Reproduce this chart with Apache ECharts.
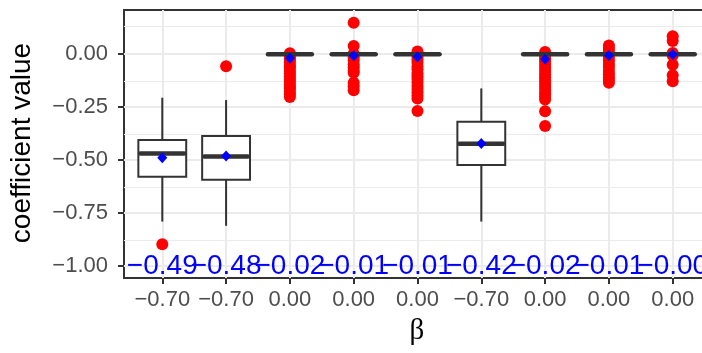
<!DOCTYPE html>
<html><head><meta charset="utf-8">
<script src="https://cdn.jsdelivr.net/npm/echarts@6/dist/echarts.min.js"></script>
<style>html,body{margin:0;padding:0;background:#fff}#c{width:702px;height:353px}</style>
</head><body><div id="c"></div>
<script>
// ---- data ----
const tickLabels = ['\u22120.70','\u22120.70','0.00','0.00','0.00','\u22120.70','0.00','0.00','0.00'];
const meanLabels = ['\u22120.49','\u22120.48','\u22120.02','\u22120.01','\u22120.01','\u22120.42','\u22120.02','\u22120.01','\u22120.00'];
const whiskerLow  = [-0.791, -0.811, 0, 0, 0, -0.791, 0, 0, 0];
const q1          = [-0.579, -0.593, 0, 0, 0, -0.524, 0, 0, 0];
const medians     = [-0.470, -0.484, 0, 0, 0, -0.423, 0, 0, 0];
const q3          = [-0.406, -0.387, 0, 0, 0, -0.319, 0, 0, 0];
const whiskerHigh = [-0.206, -0.217, 0, 0, 0, -0.162, 0, 0, 0];
const means       = [-0.489, -0.481, -0.020, -0.008, -0.014, -0.422, -0.024, -0.006, -0.002];
const outliers1 = [-0.898];
const outliers2 = [-0.057];
const outliers3 = [0.004, -0.006, -0.018, -0.027, -0.041, -0.055, -0.063, -0.078, -0.090, -0.104, -0.117, -0.128, -0.142, -0.155, -0.163, -0.178, -0.190, -0.203];
const outliers4 = [0.148, 0.038, 0.002, -0.015, -0.030, -0.048, -0.062, -0.078, -0.088, -0.135, -0.152, -0.171];
const outliers5 = [0.012, 0.000, -0.012, -0.025, -0.040, -0.058, -0.072, -0.090, -0.104, -0.118, -0.133, -0.150, -0.165, -0.180, -0.196, -0.210, -0.269];
const outliers6 = [];
const outliers7 = [0.010, -0.005, -0.020, -0.035, -0.050, -0.065, -0.080, -0.095, -0.110, -0.125, -0.140, -0.155, -0.170, -0.185, -0.200, -0.214, -0.270, -0.340];
const outliers8 = [0.041, 0.025, 0.010, 0.000, -0.012, -0.030, -0.047, -0.060, -0.078, -0.095, -0.110, -0.122, -0.135];
const outliers9 = [0.085, 0.062, 0.005, -0.005, -0.050, -0.100, -0.128];
const yTicks = [-1.00, -0.75, -0.50, -0.25, 0.00];
const yMinor = [-0.875, -0.625, -0.375, -0.125, 0.125];
const labelY = -1.0;

// ---- build ----
const outliers = [outliers1, outliers2, outliers3, outliers4, outliers5, outliers6, outliers7, outliers8, outliers9];
const xs = tickLabels.map((_, i) => i + 1);
const boxData = xs.map((x, i) => [x, whiskerLow[i], q1[i], medians[i], q3[i], whiskerHigh[i]]);
const outData = [];
outliers.forEach((arr, i) => arr.forEach(v => outData.push([i + 1, v])));
const meanData = xs.map((x, i) => [x, means[i]]);
const textData = xs.map((x, i) => [x, labelY, meanLabels[i]]);

const FONT = 'Liberation Sans';
const fmtY = v => (v < 0 ? '\u2212' : '') + Math.abs(v).toFixed(2);

const chart = echarts.init(document.getElementById('c'), null, {renderer: 'canvas'});
chart.setOption({
  animation: false,
  backgroundColor: '#ffffff',
  grid: {left: 124, top: 10, width: 587, height: 268, show: true, borderColor: '#333333', borderWidth: 2,
         backgroundColor: '#ffffff', containLabel: false, outerBoundsMode: 'none'},
  xAxis: {
    type: 'value', min: 0.4, max: 9.6,
    axisLine: {show: false, onZero: false},
    axisTick: {show: true, customValues: xs, length: 6, lineStyle: {color: '#333333', width: 2}},
    axisLabel: {customValues: xs, formatter: v => tickLabels[Math.round(v) - 1], margin: 11,
                fontSize: 22, color: '#4D4D4D', fontFamily: FONT},
    splitLine: {show: true, lineStyle: {color: '#EBEBEB', width: 2}}
  },
  yAxis: {
    type: 'value', min: -1.0576, max: 0.2085,
    axisLine: {show: false, onZero: false},
    axisTick: {show: true, customValues: yTicks, length: 6, lineStyle: {color: '#333333', width: 2}},
    axisLabel: {customValues: yTicks, formatter: fmtY, margin: 16,
                fontSize: 22, color: '#4D4D4D', fontFamily: FONT},
    splitLine: {show: true, lineStyle: {color: '#EBEBEB', width: 2}}
  },
  graphic: [
    {type: 'text', x: 22, y: 143, rotation: Math.PI / 2,
     style: {text: 'coefficient value', fontSize: 28, fontFamily: FONT, fill: '#000000', align: 'center', verticalAlign: 'middle'}},
    {type: 'text', x: 417, y: 331,
     style: {text: '\u03B2', fontSize: 29, fontFamily: 'Liberation Serif', fill: '#000000', align: 'center', verticalAlign: 'middle'}}
  ],
  series: [
    {type: 'line', data: [], silent: true, z: 1,
     markLine: {silent: true, z: 1, symbol: 'none', label: {show: false},
                lineStyle: {color: '#EBEBEB', width: 1, type: 'solid'},
                data: yMinor.map(v => ({yAxis: v}))}},
    {type: 'scatter', data: outData, symbol: 'circle', symbolSize: 12, z: 3,
     itemStyle: {color: '#FF0000', opacity: 1}},
    {type: 'custom', data: boxData, z: 4, encode: {x: 0, y: [1, 2, 3, 4, 5]},
     renderItem: (params, api) => {
       const x = api.value(0);
       const w = api.size([0.75, 0])[0];
       const pLo = api.coord([x, api.value(1)]);
       const pQ1 = api.coord([x, api.value(2)]);
       const pMed = api.coord([x, api.value(3)]);
       const pQ3 = api.coord([x, api.value(4)]);
       const pHi = api.coord([x, api.value(5)]);
       const cx = pMed[0];
       const stroke = {stroke: '#333333', lineWidth: 2, fill: null};
       return {type: 'group', children: [
         {type: 'line', shape: {x1: cx, y1: pHi[1], x2: cx, y2: pQ3[1]}, style: stroke},
         {type: 'line', shape: {x1: cx, y1: pQ1[1], x2: cx, y2: pLo[1]}, style: stroke},
         {type: 'rect', shape: {x: cx - w / 2, y: pQ3[1], width: w, height: pQ1[1] - pQ3[1]},
          style: {stroke: '#333333', lineWidth: 2, fill: '#ffffff'}},
         {type: 'line', shape: {x1: cx - w / 2 + 2, y1: pMed[1], x2: cx + w / 2 - 2, y2: pMed[1]},
          style: {stroke: '#333333', lineWidth: 4.5, lineCap: 'round'}}
       ]};
     }},
    {type: 'scatter', data: meanData, symbol: 'diamond', symbolSize: [10, 11], z: 5,
     itemStyle: {color: '#0000FF', opacity: 1}},
    {type: 'custom', data: textData, z: 6, clip: false, encode: {x: 0, y: 1},
     renderItem: (params, api) => {
       const p = api.coord([api.value(0), api.value(1)]);
       return {type: 'text', x: p[0], y: p[1],
               style: {text: meanLabels[params.dataIndex], fontSize: 28, fontFamily: FONT, fill: '#0000FF',
                       align: 'center', verticalAlign: 'middle'}};
     }}
  ]
});
</script></body></html>
